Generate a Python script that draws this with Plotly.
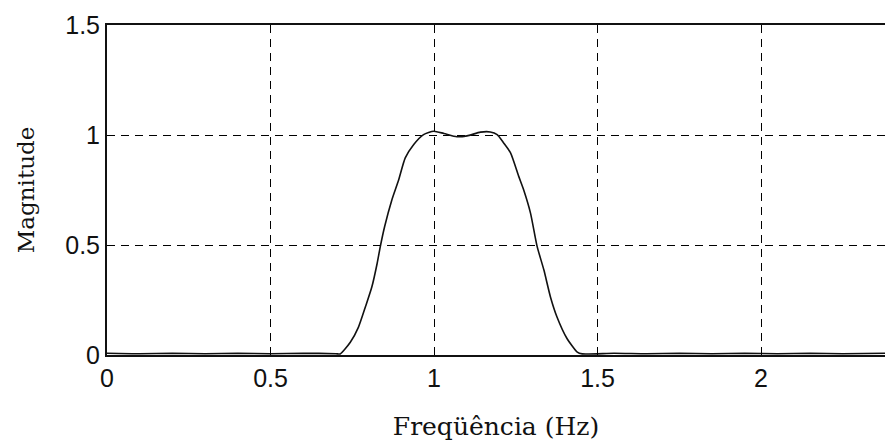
import plotly.graph_objects as go

# Magnitude response of the band-pass filter
freq_hz = [0.0, 0.1, 0.2, 0.3, 0.4, 0.5, 0.6, 0.7, 0.713,
           0.744, 0.769, 0.790, 0.810, 0.826, 0.836, 0.849, 0.871, 0.892, 0.912,
           0.938, 0.968, 0.999, 1.030, 1.070, 1.101, 1.142, 1.172,
           1.193, 1.213, 1.234, 1.259, 1.274, 1.295, 1.315, 1.336, 1.356, 1.376,
           1.407, 1.438, 1.453,
           1.55, 1.65, 1.75, 1.85, 1.95, 2.05, 2.15, 2.25, 2.38]
magnitude = [0.008, 0.006, 0.008, 0.006, 0.008, 0.006, 0.008, 0.006, 0.005,
             0.058, 0.127, 0.218, 0.310, 0.416, 0.495, 0.584, 0.705, 0.797, 0.896,
             0.957, 1.002, 1.017, 1.007, 0.992, 0.996, 1.013, 1.014,
             1.002, 0.964, 0.919, 0.812, 0.751, 0.645, 0.495, 0.386, 0.264, 0.173,
             0.074, 0.013, 0.005,
             0.008, 0.006, 0.008, 0.006, 0.008, 0.006, 0.008, 0.006, 0.008]

x_ticks = [0, 0.5, 1, 1.5, 2]
x_tick_labels = ["0", "0.5", "1", "1.5", "2"]
y_ticks = [0, 0.5, 1, 1.5]
y_tick_labels = ["0", "0.5", "1", "1.5"]

fig = go.Figure()
fig.add_trace(go.Scatter(x=freq_hz, y=magnitude, mode="lines",
                         line=dict(color="#111", width=1.6, shape="spline", smoothing=0.6),
                         showlegend=False))

tick_font = dict(family="Liberation Sans, Arial, sans-serif", size=25, color="#111")

fig.update_xaxes(
    range=[0, 2.379], tickvals=x_ticks, ticktext=x_tick_labels,
    showline=True, linecolor="#111", linewidth=2, mirror=True,
    showgrid=True, gridcolor="black", gridwidth=1, griddash="8px,6px",
    zeroline=False, ticks="inside", ticklen=5, tickcolor="black",
    tickfont=tick_font,
    title=dict(text="Freqüência (Hz)",
               font=dict(family="DejaVu Serif, serif", size=25, color="#111"),
               standoff=26),
)
fig.update_yaxes(
    range=[0, 1.5], tickvals=y_ticks, ticktext=y_tick_labels,
    showline=True, linecolor="#111", linewidth=2,
    showgrid=True, gridcolor="black", gridwidth=1, griddash="8px,6px",
    zeroline=False, ticks="inside", ticklen=5, tickcolor="black",
    tickfont=tick_font,
    title=dict(text="Magnitude",
               font=dict(family="DejaVu Serif, serif", size=23, color="#111"),
               standoff=24),
)

fig.update_layout(
    width=885, height=447,
    margin=dict(l=107, r=0, t=25, b=92),
    plot_bgcolor="white", paper_bgcolor="white",
)

fig.write_html("out.html")
